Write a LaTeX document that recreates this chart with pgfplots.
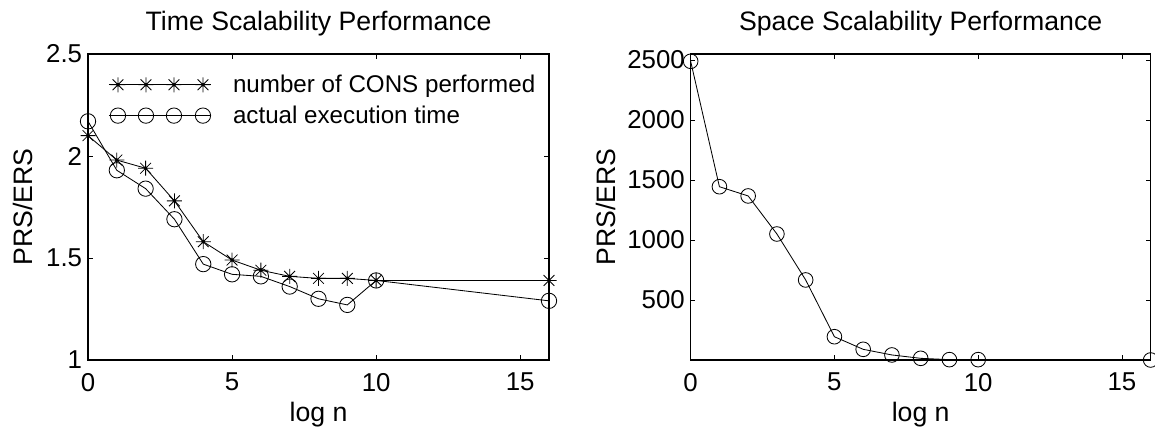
\documentclass[border=0pt]{standalone}
\usepackage{fontspec}
\setmainfont{Liberation Sans}
\usepackage{pgfplots}
\pgfplotsset{compat=1.18}

% matlab style asterisk: + and x together
\pgfdeclareplotmark{mstar}{%
  \pgfpathmoveto{\pgfqpoint{-\pgfplotmarksize}{0pt}}\pgfpathlineto{\pgfqpoint{\pgfplotmarksize}{0pt}}%
  \pgfpathmoveto{\pgfqpoint{0pt}{-\pgfplotmarksize}}\pgfpathlineto{\pgfqpoint{0pt}{\pgfplotmarksize}}%
  \pgfpathmoveto{\pgfqpoint{-0.72\pgfplotmarksize}{-0.72\pgfplotmarksize}}\pgfpathlineto{\pgfqpoint{0.72\pgfplotmarksize}{0.72\pgfplotmarksize}}%
  \pgfpathmoveto{\pgfqpoint{-0.72\pgfplotmarksize}{0.72\pgfplotmarksize}}\pgfpathlineto{\pgfqpoint{0.72\pgfplotmarksize}{-0.72\pgfplotmarksize}}%
  \pgfusepathqstroke
  \pgfpathcircle{\pgfpointorigin}{0.25\pgfplotmarksize}\pgfusepathqfill}

\pgfplotsset{
  mstyle/.style={
    scale only axis, height=183.6pt,
    xmin=0, xmax=16, xtick={0,5,10,15},
    tick pos=both, tick align=inside, major tick length=2.8pt,
    axis line style={line width=0.9pt}, every tick/.style={line width=0.5pt,black},
    font=\fontsize{15.5}{18}\selectfont,
    /pgf/number format/assume math mode=true,
    /pgf/number format/1000 sep={},
    scaled ticks=false,
    xlabel={log n},
    ylabel={PRS/ERS},
    xlabel style={at={(0.5,0)}, anchor=base, yshift=-37pt, font=\fontsize{16}{18}\selectfont},
    title style={at={(0.5,1)}, anchor=base, yshift=8pt, font=\fontsize{16}{18}\selectfont},
    xticklabel style={yshift=-4.4pt},
    every axis plot/.append style={black, line width=0.5pt},
  },
}

\begin{document}
\begin{tikzpicture}
\useasboundingbox (0,0) rectangle (693pt,256.8pt);

\begin{axis}[mstyle,
  at={(52.8pt,40.8pt)}, anchor=south west, width=276.6pt,
  ymin=1, ymax=2.5, ytick={1,1.5,2,2.5},
  title={Time Scalability Performance},
  ylabel style={at={(0,0.5)}, anchor=base, yshift=33pt, font=\fontsize{16}{18}\selectfont},
  legend style={draw=none, fill=none, at={(0.033,0.955)}, anchor=north west,
    font=\fontsize{14.5}{18}\selectfont, row sep=2.5pt, column sep=11pt,
    nodes={inner sep=2pt}},
  legend cell align=left,
  legend image code/.code={%
    \draw[#1,mark=none] (0pt,0pt) -- (61.2pt,0pt);
    \draw[#1,only marks] plot coordinates {(5.4pt,0pt) (22.2pt,0pt) (39pt,0pt) (56.4pt,0pt)};},
]
\addplot[mark=mstar, mark size=4.5pt, mark options={line width=0.5pt}] coordinates {
  (0,2.10) (1,1.98) (2,1.94) (3,1.78) (4,1.58) (5,1.49) (6,1.44)
  (7,1.41) (8,1.40) (9,1.40) (10,1.39) (16,1.39)};
\addplot[mark=o, mark size=4.6pt, mark options={line width=0.5pt}] coordinates {
  (0,2.17) (1,1.93) (2,1.84) (3,1.69) (4,1.47) (5,1.42) (6,1.41)
  (7,1.36) (8,1.30) (9,1.27) (10,1.39) (16,1.29)};
\legend{number of CONS performed, actual execution time}
\end{axis}

\begin{axis}[mstyle,
  at={(414.4pt,40.8pt)}, anchor=south west, width=276pt,
  ymin=0, ymax=2550, ytick={500,1000,1500,2000,2500},
  title={Space Scalability Performance},
  ylabel style={at={(0,0.5)}, anchor=base, yshift=45.4pt, font=\fontsize{16}{18}\selectfont},
]
\addplot[mark=o, mark size=4.4pt, mark options={line width=0.5pt}] coordinates {
  (0,2489) (1,1444) (2,1367) (3,1050) (4,667) (5,194) (6,89)
  (7,42) (8,14) (9,3) (10,3) (16,0)};
\end{axis}
\end{tikzpicture}
\end{document}
